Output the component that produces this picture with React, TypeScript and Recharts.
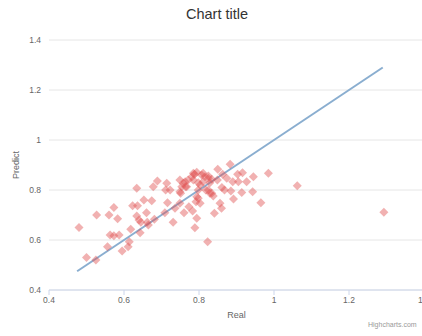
import { ScatterChart, Scatter, XAxis, YAxis, CartesianGrid, ReferenceLine } from "recharts";

// Real / Predict pairs
const realValues = [
  0.48, 0.5, 0.525, 0.527, 0.56, 0.573, 0.583, 0.556, 0.563, 0.573,
  0.587, 0.595, 0.611, 0.614, 0.618, 0.623, 0.636, 0.634, 0.634, 0.64,
  0.643, 0.645, 0.653, 0.66, 0.662, 0.674, 0.678, 0.681, 0.689, 0.709,
  0.711, 0.714, 0.716, 0.723, 0.731, 0.736, 0.749, 0.749, 0.751, 0.76,
  0.764, 0.773, 0.783, 0.789, 0.794, 0.794, 0.803, 0.798, 0.788, 0.781,
  0.794, 0.665, 0.85, 0.883, 0.863, 0.903, 0.916, 0.945, 0.985, 1.062,
  1.293, 0.89, 0.905, 0.927, 0.874, 0.943, 0.914, 0.885, 0.892, 0.965,
  0.861, 0.868, 0.856, 0.86, 0.841, 0.823, 0.798, 0.792, 0.825, 0.834,
  0.838, 0.785, 0.807, 0.816, 0.825, 0.834, 0.785, 0.798, 0.811, 0.763,
  0.754, 0.767, 0.803, 0.829, 0.849, 0.829, 0.818, 0.825, 0.811, 0.771,
  0.758, 0.749,
];
const predictValues = [
  0.65, 0.53, 0.52, 0.7, 0.7, 0.73, 0.685, 0.573, 0.62, 0.617,
  0.62, 0.556, 0.573, 0.593, 0.643, 0.737, 0.737, 0.807, 0.696, 0.68,
  0.629, 0.671, 0.76, 0.709, 0.671, 0.757, 0.813, 0.683, 0.836, 0.709,
  0.8, 0.827, 0.749, 0.8, 0.671, 0.727, 0.747, 0.84, 0.787, 0.709,
  0.813, 0.733, 0.716, 0.649, 0.687, 0.773, 0.747, 0.8, 0.863, 0.853,
  0.871, 0.66, 0.883, 0.903, 0.863, 0.863, 0.869, 0.853, 0.867, 0.817,
  0.711, 0.833, 0.833, 0.833, 0.847, 0.793, 0.79, 0.796, 0.764, 0.749,
  0.81, 0.8, 0.747, 0.727, 0.707, 0.593, 0.767, 0.753, 0.8, 0.787,
  0.776, 0.867, 0.86, 0.853, 0.847, 0.843, 0.84, 0.829, 0.833, 0.833,
  0.813, 0.813, 0.82, 0.829, 0.84, 0.787, 0.8, 0.856, 0.867, 0.84,
  0.827, 0.793,
];
const axisTicks = [0.4, 0.6, 0.8, 1, 1.2, 1.4];
const fitLine = [0.475, 1.29];

const points = realValues.map((real, i) => ({ real, predict: predictValues[i] }));

const FONT = '"Liberation Sans", Arial, sans-serif';

function Diamond(props: any) {
  const { cx, cy } = props;
  const r = 4.5;
  return (
    <path
      d={`M${cx},${cy - r}L${cx + r},${cy}L${cx},${cy + r}L${cx - r},${cy}Z`}
      fill="rgba(223,83,83,0.45)"
    />
  );
}

const fmt = (v: number) => String(Math.round(v * 10) / 10);

export default function App() {
  return (
    <div style={{ position: "fixed", left: 0, top: 0, width: 422, height: 336, overflow: "hidden", background: "#fff", fontFamily: FONT }}>
      <div style={{ position: "relative", width: 434, height: 336 }}>
        <div style={{ position: "absolute", left: 0, top: 6, width: 434, textAlign: "center", fontSize: 14.5, lineHeight: "16px", color: "#333" }}>
          Chart title
        </div>
        <ScatterChart width={434} height={336} margin={{ top: 40, right: 10, bottom: 0, left: 0 }}>
          <CartesianGrid stroke="#e6e6e6" vertical={false} />
          <XAxis
            type="number"
            dataKey="real"
            domain={[0.4, 1.4]}
            ticks={axisTicks}
            tickFormatter={fmt}
            height={46}
            tick={{ fontSize: 8.5, fill: "#666", fontFamily: FONT }}
            tickSize={5}
            tickMargin={2}
            tickLine={{ stroke: "#ccd6eb" }}
            axisLine={{ stroke: "#ccd6eb" }}
            label={{ value: "Real", position: "insideBottom", offset: 18, style: { fontSize: 9, fill: "#666", fontFamily: FONT } }}
          />
          <YAxis
            type="number"
            dataKey="predict"
            domain={[0.4, 1.4]}
            ticks={axisTicks}
            tickFormatter={fmt}
            width={49}
            tick={{ fontSize: 8.5, fill: "#666", fontFamily: FONT }}
            tickLine={false}
            axisLine={false}
            label={{ value: "Predict", angle: -90, position: "insideLeft", offset: 16, style: { textAnchor: "middle", fontSize: 9, fill: "#666", fontFamily: FONT } }}
          />
          <ReferenceLine
            segment={[{ x: fitLine[0], y: fitLine[0] }, { x: fitLine[1], y: fitLine[1] }]}
            stroke="#8aaed0"
            strokeWidth={2}
            ifOverflow="visible"
          />
          <Scatter data={points} shape={Diamond} isAnimationActive={false} />
        </ScatterChart>
        <div style={{ position: "absolute", left: 368, top: 321, fontSize: 7, color: "#999" }}>Highcharts.com</div>
      </div>
    </div>
  );
}
